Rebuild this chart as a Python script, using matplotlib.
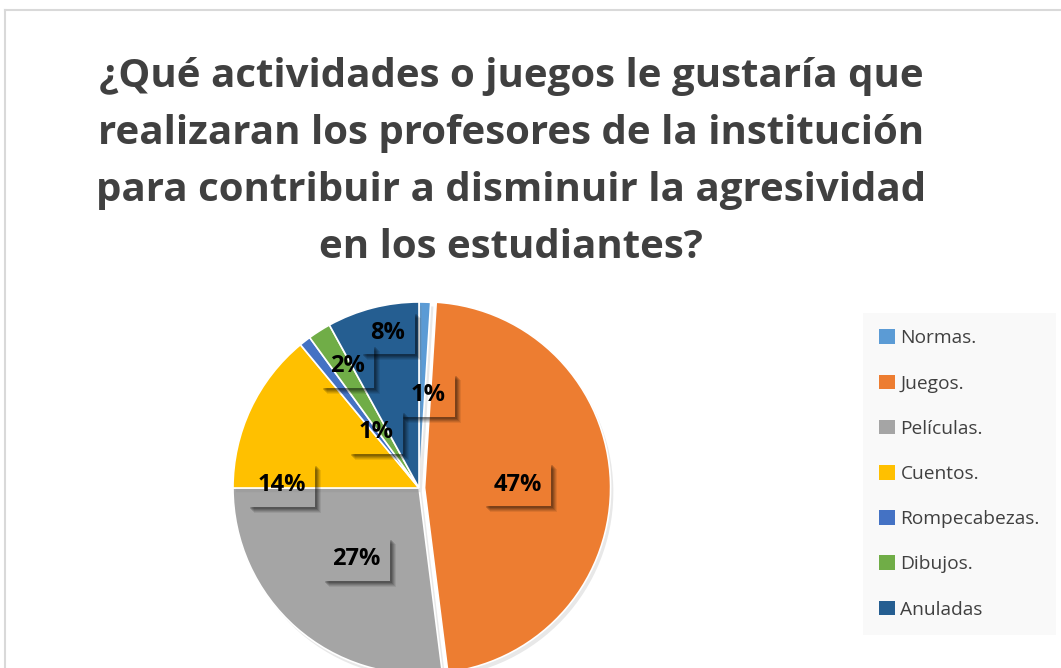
import numpy as np
import matplotlib
matplotlib.use("Agg")
from matplotlib import pyplot as plt
from matplotlib import patheffects as pe
from matplotlib.lines import Line2D
from matplotlib.patches import Rectangle

plt.rcParams['font.family'] = ['Open Sans', 'DejaVu Sans']

# data
categorias = ["Normas.", "Juegos.", "Películas.", "Cuentos.", "Rompecabezas.", "Dibujos.", "Anuladas"]
porcentajes = [1, 47, 27, 14, 1, 2, 8]
colores = ["#5B9BD5", "#ED7D31", "#A5A5A5", "#FFC000", "#4472C4", "#70AD47", "#255E91"]
titulo = ("¿Qué actividades o juegos le gustaría que\n"
          "realizaran los profesores de la institución\n"
          "para contribuir a disminuir la agresividad\n"
          "en los estudiantes?")

# label placement (radius fraction, angle shift in degrees)
label_r = [0.50, 0.50, 0.51, 0.74, 0.38, 0.76, 0.85]
label_shift = [-4, 0, 0, 24, 0, -2, -3]
explode = [0, 0.03, 0, 0, 0, 0, 0]

W, H = 1061, 668
fig = plt.figure(figsize=(W / 100, H / 100), dpi=100)

# chart frame
fig.add_artist(Line2D([5 / W, 1], [1 - 10 / H, 1 - 10 / H], color="#D9D9D9", lw=1.5))
fig.add_artist(Line2D([5 / W, 5 / W], [0, 1 - 10 / H], color="#D9D9D9", lw=1.5))

fig.text(511 / W, 1 - 57 / H, titulo, ha="center", va="top", fontsize=29,
         fontweight="bold", color="#404040", linespacing=1.6)

cx, cy, r = 419, 488, 186
ax = fig.add_axes([(cx - r) / W, (H - cy - r) / H, 2 * r / W, 2 * r / H])
wedges, _ = ax.pie(porcentajes, colors=colores, startangle=90, counterclock=False,
                   explode=explode, radius=1,
                   wedgeprops=dict(edgecolor="white", linewidth=1.2))
for w in wedges:
    w.set_clip_on(False)
    w.set_path_effects([pe.SimplePatchShadow(offset=(2, -3), shadow_rgbFace="gray", alpha=0.18),
                        pe.Normal()])
ax.set_xlim(-1, 1)
ax.set_ylim(-1, 1)
ax.set_aspect("equal")
ax.axis("off")

textos = []
for w, p, lr, sh in zip(wedges, porcentajes, label_r, label_shift):
    ang = np.deg2rad((w.theta1 + w.theta2) / 2 + sh)
    x = w.center[0] + lr * np.cos(ang)
    y = w.center[1] + lr * np.sin(ang)
    t = ax.text(x, y, f"{p}%", ha="center", va="center", fontsize=17,
                fontweight="bold", color="black", clip_on=False, zorder=5,
                bbox=dict(boxstyle="square,pad=0.4", facecolor="none", edgecolor="none"))
    textos.append(t)

leg = fig.legend(wedges, categorias, loc="upper left",
                 bbox_to_anchor=(863 / W, 1 - 313 / H), borderaxespad=0,
                 fontsize=13.8, frameon=True, fancybox=False, labelspacing=1.42,
                 handlelength=0.8, handleheight=0.8, handletextpad=0.3,
                 borderpad=0.85, labelcolor="#404040")
leg.get_frame().set_facecolor("#F8F8F8")
leg.get_frame().set_edgecolor("none")
for h in leg.legend_handles:
    h.set_path_effects([])
    h.set_edgecolor("none")

# soft drop shadow on right and bottom of each label box
fig.canvas.draw()
for t in textos:
    bb = t.get_bbox_patch().get_window_extent()
    for k, a in [(6, 0.08), (5, 0.10), (4, 0.12), (3, 0.14), (2, 0.16)]:
        fig.add_artist(Rectangle((bb.x1, bb.y0 - k), k, bb.height, transform=None,
                                 facecolor="black", edgecolor="none", alpha=a, zorder=4))
        fig.add_artist(Rectangle((bb.x0 + k, bb.y0 - k), bb.width - k, k, transform=None,
                                 facecolor="black", edgecolor="none", alpha=a, zorder=4))

fig.savefig("out.png", dpi=100)
